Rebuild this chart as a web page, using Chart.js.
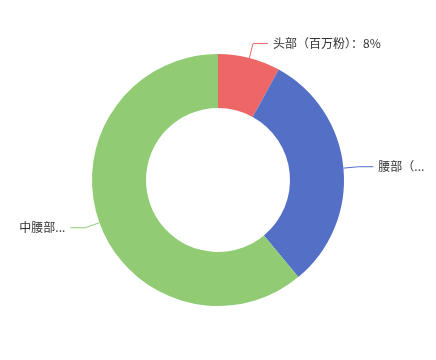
<!DOCTYPE html>
<html>
<head>
<meta charset="utf-8">
<script src="https://cdn.jsdelivr.net/npm/chart.js@4"></script>
<style>
    html, body { margin: 0; padding: 0; background: #fff; }
    #wrap { width: 436px; height: 360px; }
</style>
</head>
<body>
<div id="wrap"><canvas id="pieChart" width="436" height="360"></canvas></div>
<script>
// ── Data ────────────────────────────────────────────────────────────────
const categories = ['头部（百万粉）', '腰部', '中腰部'];
const shares = [8, 31, 61];
const labelTexts = ['头部（百万粉）：8%', '腰部（...', '中腰部...'];
const colours = ['#ee6666', '#5470c6', '#91cc75'];

// ── Outside labels with leader lines (echarts style) ────────────────────
const leaderLabels = {
    id: 'leaderLabels',
    afterDatasetsDraw(chart) {
        const ctx = chart.ctx;
        const arcs = chart.getDatasetMeta(0).data;
        ctx.save();
        ctx.font = '12px "Noto Sans CJK SC", sans-serif';
        ctx.textBaseline = 'middle';
        arcs.forEach((arc, i) => {
            const p = arc.getProps(['x', 'y', 'startAngle', 'endAngle', 'outerRadius']);
            const mid = (p.startAngle + p.endAngle) / 2;
            const cos = Math.cos(mid), sin = Math.sin(mid);
            const x0 = p.x + cos * p.outerRadius;
            const y0 = p.y + sin * p.outerRadius;
            const x1 = p.x + cos * (p.outerRadius + 15);
            const y1 = p.y + sin * (p.outerRadius + 15);
            const right = cos >= 0;
            const x2 = x1 + (right ? 15 : -15);

            ctx.strokeStyle = colours[i];
            ctx.lineWidth = 1;
            ctx.beginPath();
            ctx.moveTo(x0, y0);
            ctx.lineTo(x1, y1);
            ctx.lineTo(x2, y1);
            ctx.stroke();

            ctx.fillStyle = '#333';
            ctx.textAlign = right ? 'left' : 'right';
            ctx.fillText(labelTexts[i], x2 + (right ? 5 : -5), y1);
        });
        ctx.restore();
    }
};

new Chart(document.getElementById('pieChart'), {
    type: 'doughnut',
    data: {
        labels: categories,
        datasets: [{
            data: shares,
            backgroundColor: colours,
            borderWidth: 0,
            hoverOffset: 0
        }]
    },
    options: {
        responsive: false,
        animation: false,
        cutout: '57.14%',
        layout: { padding: { left: 92, right: 92, top: 54, bottom: 54 } },
        plugins: {
            legend: { display: false },
            tooltip: { enabled: false }
        }
    },
    plugins: [leaderLabels]
});
</script>
</body>
</html>
